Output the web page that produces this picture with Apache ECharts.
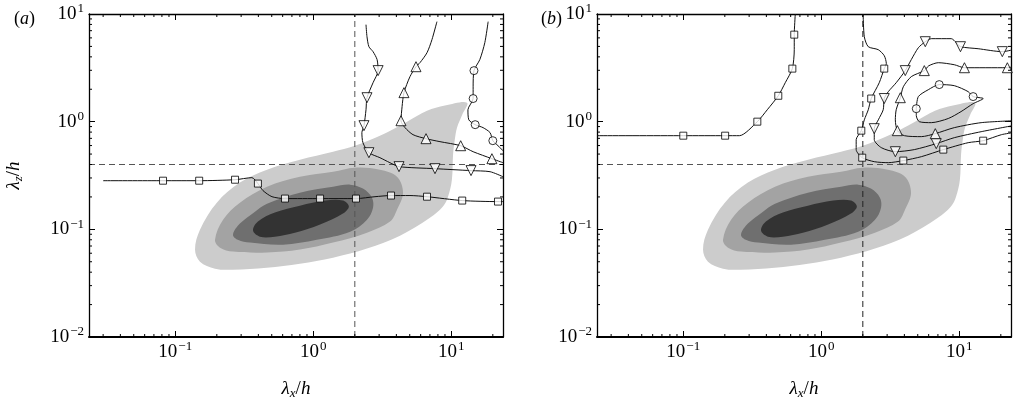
<!DOCTYPE html>
<html>
<head>
<meta charset="utf-8">
<script src="https://cdn.jsdelivr.net/npm/echarts@6/dist/echarts.min.js"></script>
<style>
  html, body { margin: 0; padding: 0; background: #fff; }
  #chart { width: 1019px; height: 401px; }
</style>
</head>
<body>
<div id="chart"></div>
<script>
// axis extents (lambda/h)
const xRange = [0.0237, 23.7]
const zRange = [0.01, 10]
const xRef = 2.0
const zRef = 0.4

// filled contours of the reference spectrum, outer -> inner, [lambda_x/h, lambda_z/h]
const contourLevel1 = [[0.139,0.0648],[0.151,0.0993],[0.200,0.177],[0.294,0.272],[0.462,0.358],[0.801,0.443],[1.39,0.526],[2.0,0.598],[3.04,0.741],[4.78,1.0],[6.67,1.26],[9.0,1.41],[13.0,1.50],[12.0,1.16],[11.0,0.88],[10.6,0.68],[10.3,0.494],[10.1,0.289],[9.47,0.201],[8.7,0.163],[7.0,0.128],[4.25,0.0874],[2.45,0.0662],[1.39,0.0546],[0.80,0.048],[0.46,0.044],[0.262,0.0422],[0.194,0.0431],[0.151,0.050]]
const contourLevel2 = [[0.194,0.080],[0.222,0.123],[0.294,0.177],[0.462,0.249],[0.80,0.308],[1.39,0.343],[2.0,0.374],[3.04,0.358],[4.04,0.308],[4.47,0.219],[4.04,0.152],[3.6,0.118],[2.45,0.093],[1.39,0.0753],[0.80,0.0648],[0.462,0.0608],[0.262,0.0621],[0.211,0.0676]]
const contourLevel3 = [[0.262,0.0893],[0.294,0.113],[0.378,0.146],[0.462,0.173],[0.80,0.219],[1.39,0.249],[1.85,0.260],[2.29,0.239],[2.66,0.197],[2.71,0.159],[2.45,0.123],[1.85,0.0952],[1.06,0.080],[0.603,0.0721],[0.348,0.0753],[0.284,0.080]]
const contourLevel4 = [[0.366,0.0973],[0.397,0.118],[0.527,0.143],[0.80,0.166],[1.22,0.185],[1.64,0.185],[1.81,0.163],[1.64,0.140],[1.12,0.111],[0.736,0.093],[0.527,0.0855],[0.411,0.0855]]
const contourColors = ['#cccccc', '#a3a3a3', '#6f6f6f', '#333333']

// (a) line contours
const aSquareLine = [[0.030,0.283],[0.0815,0.283],[0.149,0.283],[0.271,0.289],[0.359,0.302],[0.397,0.266],[0.432,0.229],[0.502,0.201],[0.624,0.193],[1.12,0.193],[2.04,0.193],[2.80,0.201],[3.66,0.206],[5.02,0.206],[6.67,0.201],[12.0,0.185],[21.8,0.181],[23.7,0.181]]
const aSquareMarks = [[0.0815,0.283],[0.149,0.283],[0.271,0.289],[0.397,0.266],[0.624,0.193],[1.12,0.193],[2.04,0.193],[3.66,0.206],[6.67,0.201],[12.0,0.185],[21.8,0.181]]
const aDownLine = [[2.41,7.96],[2.45,6.15],[2.53,4.97],[2.71,4.47],[2.90,3.77],[2.95,2.98],[2.71,2.30],[2.45,1.67],[2.41,1.29],[2.33,0.918],[2.25,0.791],[2.29,0.638],[2.53,0.515],[3.04,0.463],[3.59,0.416],[4.18,0.382],[7.62,0.366],[13.9,0.351],[19.1,0.343],[23.7,0.308]]
const aDownMarks = [[2.95,2.98],[2.45,1.67],[2.33,0.918],[2.53,0.515],[4.18,0.382],[7.62,0.366],[13.9,0.351]]
const aUpLine = [[7.87,8.49],[7.24,5.77],[6.67,4.37],[5.93,3.53],[5.55,3.24],[5.02,2.62],[4.54,1.86],[4.40,1.38],[4.32,1.02],[4.62,0.880],[5.28,0.757],[6.56,0.695],[8.28,0.652],[11.7,0.598],[14.4,0.526],[19.7,0.453],[23.7,0.416]]
const aUpMarks = [[5.55,3.24],[4.54,1.86],[4.32,1.02],[6.56,0.695],[11.7,0.598],[19.7,0.453]]
const aCircleLine = [[18.5,8.49],[17.5,5.42],[16.1,3.77],[14.6,2.98],[14.4,2.11],[14.4,1.64],[13.2,1.29],[13.4,1.04],[14.9,0.938],[17.0,0.880],[19.1,0.791],[20.0,0.666],[21.8,0.598],[23.7,0.538]]
const aCircleMarks = [[14.6,2.98],[14.4,1.64],[14.9,0.938],[20.0,0.666]]

// (b) line contours
const bSquareLineA = [[0.0237,0.741],[0.100,0.741],[0.201,0.741],[0.255,0.741],[0.344,1.0],[0.406,1.29],[0.488,1.74],[0.548,2.30],[0.617,3.11],[0.637,4.66],[0.637,6.43],[0.648,10.0]]
const bSquareMarksA = [[0.100,0.741],[0.201,0.741],[0.344,1.0],[0.488,1.74],[0.617,3.11],[0.637,6.43]]
const bSquareLineB = [[2.01,10.0],[2.05,6.15],[2.19,4.97],[2.59,4.66],[2.86,4.10],[2.96,3.46],[2.86,3.11],[2.63,2.30],[2.30,1.64],[2.19,1.29],[2.05,1.04],[1.95,0.825],[1.79,0.681],[1.79,0.550],[1.98,0.463],[2.42,0.425],[3.06,0.416],[3.93,0.435],[5.31,0.473],[7.66,0.550],[11.6,0.638],[14.9,0.666],[20.2,0.757],[24.6,0.791]]
const bSquareMarksB = [[2.86,3.11],[2.30,1.64],[1.95,0.825],[1.98,0.463],[3.93,0.435],[7.66,0.550],[14.9,0.666]]
const bDownLine = [[24.6,4.66],[20.5,4.47],[13.7,4.76],[10.2,4.97],[9.51,5.42],[8.75,5.90],[6.27,5.90],[5.67,5.53],[5.05,4.86],[4.49,3.77],[4.06,2.98],[3.49,2.30],[3.06,1.90],[2.86,1.64],[2.81,1.29],[2.59,1.04],[2.42,0.861],[2.42,0.681],[2.72,0.574],[3.44,0.526],[4.72,0.550],[6.81,0.625],[9.20,0.710],[14.4,0.807],[24.6,0.92]]
const bDownMarks = [[20.5,4.47],[10.2,4.97],[5.67,5.53],[4.06,2.98],[2.86,1.64],[2.42,0.861],[3.44,0.526],[6.81,0.625]]
const bUpLine = [[24.6,3.24],[22.3,3.17],[10.9,3.17],[9.20,3.38],[7.05,3.53],[6.0,3.3],[5.58,2.98],[4.49,2.62],[3.93,2.11],[3.74,1.67],[3.49,1.29],[3.44,1.04],[3.56,0.825],[4.0,0.741],[5.31,0.726],[6.70,0.774],[9.20,0.880],[14.4,0.979],[24.6,1.02]]
const bUpMarks = [[22.3,3.17],[10.9,3.17],[5.58,2.98],[3.74,1.67],[3.56,0.825],[6.70,0.774]]
const bCircleLine = [[4.88,1.32],[5.05,1.71],[5.96,1.98],[7.16,2.21],[9.20,2.16],[11.6,1.90],[12.6,1.71],[14.9,1.64],[12.6,1.47],[10.3,1.24],[8.32,1.07],[6.27,0.979],[5.13,1.0],[4.88,1.14],[4.88,1.32]]
const bCircleMarks = [[4.88,1.32],[7.16,2.21],[12.6,1.71]]

// minor ticks 2..9 x 10^k
const minorDigits = [2, 3, 4, 5, 6, 7, 8, 9]
const xDecades = [0.01, 0.1, 1, 10]
const zDecades = [0.01, 0.1, 1]

const FONT = 'Liberation Serif'
const lg = Math.log10
const toLog = pts => pts.map(p => [lg(p[0]), lg(p[1])])

const xMinor = []
xDecades.forEach(d => minorDigits.forEach(m => {
  const v = d * m
  if (v > xRange[0] && v < xRange[1]) xMinor.push(v)
}))
const zMinor = []
zDecades.forEach(d => minorDigits.forEach(m => zMinor.push(d * m)))

const chart = echarts.init(document.getElementById('chart'), null, { renderer: 'canvas' })

// superscript exponent, the "10" uses the axisLabel font itself
const supRich = {
  s: { fontSize: 13, fontFamily: FONT, color: '#000', lineHeight: 13, padding: [0, 0, 10, 1] }
}
const powLabel = v => {
  if (Math.abs(v - Math.round(v)) > 1e-6) return ''
  const e = Math.round(v)
  return '10{s|' + (e < 0 ? '\u2212' + (-e) : e) + '}'
}
const titleRich = {
  i: { fontSize: 19, fontFamily: FONT, fontStyle: 'italic', color: '#000' },
  n: { fontSize: 19, fontFamily: FONT, color: '#000' },
  sub: { fontSize: 13, fontFamily: FONT, fontStyle: 'italic', color: '#000', padding: [9, 0, 0, 0] }
}

const grids = [
  { left: 89, top: 14, width: 414, height: 323, containLabel: false, outerBoundsMode: 'none' },
  { left: 597, top: 14, width: 414, height: 323, containLabel: false, outerBoundsMode: 'none' }
]

const xAxes = []
const yAxes = []
grids.forEach((g, gi) => {
  const common = {
    gridIndex: gi,
    type: 'value',
    axisLine: { lineStyle: { color: '#000', width: 1.3 } },
    axisTick: { inside: true, length: 6, lineStyle: { color: '#000', width: 1 } },
    splitLine: { show: false }
  }
  xAxes.push(Object.assign({}, common, {
    position: 'bottom',
    min: lg(xRange[0]), max: lg(xRange[1]), minInterval: 1, maxInterval: 1, splitNumber: 3,
    axisLine: { onZero: false, lineStyle: { color: '#000', width: 2 } },
    axisLabel: { formatter: powLabel, rich: supRich, margin: 5, fontSize: 19, fontFamily: FONT, color: '#000', lineHeight: 20 },
    name: '{i|\u03bb}{sub|x}{n|/}{i|h}',
    nameLocation: 'middle', nameGap: 41,
    nameTextStyle: { rich: titleRich, fontSize: 19, fontFamily: FONT, color: '#000' }
  }))
  xAxes.push(Object.assign({}, common, {
    position: 'top',
    min: lg(xRange[0]), max: lg(xRange[1]), minInterval: 1, maxInterval: 1, splitNumber: 3,
    axisLine: { onZero: false, lineStyle: { color: '#000', width: 1.3 } },
    axisLabel: { show: false }
  }))
  yAxes.push(Object.assign({}, common, {
    position: 'left',
    min: lg(zRange[0]), max: lg(zRange[1]), interval: 1,
    axisLine: { onZero: false, lineStyle: { color: '#000', width: 1.3 } },
    axisLabel: { formatter: powLabel, rich: supRich, margin: 5, fontSize: 19, fontFamily: FONT, color: '#000', lineHeight: 20 },
    name: gi === 0 ? '{i|\u03bb}{sub|z}{n|/}{i|h}' : '',
    nameLocation: 'middle', nameGap: 64,
    nameTextStyle: { rich: titleRich, fontSize: 19, fontFamily: FONT, color: '#000' }
  }))
  yAxes.push(Object.assign({}, common, {
    position: 'right',
    min: lg(zRange[0]), max: lg(zRange[1]), interval: 1,
    axisLine: { onZero: false, lineStyle: { color: '#000', width: 1.3 } },
    axisLabel: { show: false }
  }))
})

const series = []

const addContour = (poly, color, gi) => {
  series.push({
    type: 'custom',
    xAxisIndex: gi * 2, yAxisIndex: gi * 2,
    data: toLog(poly),
    silent: true,
    z: 1,
    renderItem: (params, api) => {
      if (params.dataIndex !== 0) return
      const pts = toLog(poly).map(p => api.coord(p))
      return { type: 'polygon', shape: { points: pts, smooth: 0.35 }, style: { fill: color } }
    }
  })
}

const addLine = (pts, gi, opts) => {
  series.push(Object.assign({
    type: 'line',
    xAxisIndex: gi * 2, yAxisIndex: gi * 2,
    data: toLog(pts),
    showSymbol: false,
    smooth: 0.25,
    silent: true,
    z: 4,
    lineStyle: { color: '#111', width: 1 }
  }, opts || {}))
}

const addMarks = (pts, gi, symbol, size, rotate) => {
  series.push({
    type: 'scatter',
    xAxisIndex: gi * 2, yAxisIndex: gi * 2,
    data: toLog(pts),
    symbol: symbol,
    symbolSize: size,
    symbolRotate: rotate || 0,
    silent: true,
    z: 6,
    itemStyle: { color: '#fff', borderColor: '#000', borderWidth: 1 }
  })
}

const addMinorTicks = gi => {
  series.push({
    type: 'custom',
    xAxisIndex: gi * 2, yAxisIndex: gi * 2,
    data: xMinor.map(v => [lg(v), lg(zRange[0])]),
    silent: true, z: 8,
    renderItem: (params, api) => {
      const cs = params.coordSys
      const px = api.coord([api.value(0), api.value(1)])[0]
      return { type: 'group', children: [
        { type: 'line', shape: { x1: px, y1: cs.y + cs.height, x2: px, y2: cs.y + cs.height - 3 }, style: { stroke: '#000', lineWidth: 1 } },
        { type: 'line', shape: { x1: px, y1: cs.y, x2: px, y2: cs.y + 3 }, style: { stroke: '#000', lineWidth: 1 } }
      ] }
    }
  })
  series.push({
    type: 'custom',
    xAxisIndex: gi * 2, yAxisIndex: gi * 2,
    data: zMinor.map(v => [lg(xRange[0]), lg(v)]),
    silent: true, z: 8,
    renderItem: (params, api) => {
      const cs = params.coordSys
      const py = api.coord([api.value(0), api.value(1)])[1]
      return { type: 'group', children: [
        { type: 'line', shape: { x1: cs.x, y1: py, x2: cs.x + 3, y2: py }, style: { stroke: '#000', lineWidth: 1 } },
        { type: 'line', shape: { x1: cs.x + cs.width, y1: py, x2: cs.x + cs.width - 3, y2: py }, style: { stroke: '#000', lineWidth: 1 } }
      ] }
    }
  })
}

const refDashes = (gi, vColor) => {
  addLine([[xRef, zRange[0]], [xRef, zRange[1]]], gi, { smooth: false, z: 3, lineStyle: { color: vColor, width: 1, type: [6, 4] } })
  addLine([[xRange[0], zRef], [xRange[1], zRef]], gi, { smooth: false, z: 3, lineStyle: { color: '#555', width: 1, type: [6, 4] } })
}

// panel (a) and (b) share the filled reference spectrum
;[0, 1].forEach(gi => {
  addContour(contourLevel1, contourColors[0], gi)
  addContour(contourLevel2, contourColors[1], gi)
  addContour(contourLevel3, contourColors[2], gi)
  addContour(contourLevel4, contourColors[3], gi)
  addMinorTicks(gi)
})
refDashes(0, '#555')
refDashes(1, '#222')

addLine(aSquareLine, 0)
addLine(aDownLine, 0)
addLine(aUpLine, 0)
addLine(aCircleLine, 0)
addMarks(aSquareMarks, 0, 'rect', 7)
addMarks(aDownMarks, 0, 'triangle', 10, 180)
addMarks(aUpMarks, 0, 'triangle', 10)
addMarks(aCircleMarks, 0, 'circle', 8)

addLine(bSquareLineA, 1)
addLine(bSquareLineB, 1)
addLine(bDownLine, 1)
addLine(bUpLine, 1)
addLine(bCircleLine, 1)
addMarks(bSquareMarksA, 1, 'rect', 7)
addMarks(bSquareMarksB, 1, 'rect', 7)
addMarks(bDownMarks, 1, 'triangle', 10, 180)
addMarks(bUpMarks, 1, 'triangle', 10)
addMarks(bCircleMarks, 1, 'circle', 8)

const panelRich = {
  p: { fontSize: 18, fontFamily: FONT, fontWeight: 'normal', color: '#000' },
  i: { fontSize: 18, fontFamily: FONT, fontStyle: 'italic', fontWeight: 'normal', color: '#000' }
}

chart.setOption({
  animation: false,
  backgroundColor: '#fff',
  title: [
    { text: '{p|(}{i|a}{p|)}', left: 9, top: 5, textStyle: { rich: panelRich, fontWeight: 'normal', fontSize: 18, fontFamily: FONT } },
    { text: '{p|(}{i|b}{p|)}', left: 536, top: 5, textStyle: { rich: panelRich, fontWeight: 'normal', fontSize: 18, fontFamily: FONT } }
  ],
  grid: grids,
  xAxis: xAxes,
  yAxis: yAxes,
  series: series
})

window.addEventListener('resize', () => chart.resize())
</script>
</body>
</html>
